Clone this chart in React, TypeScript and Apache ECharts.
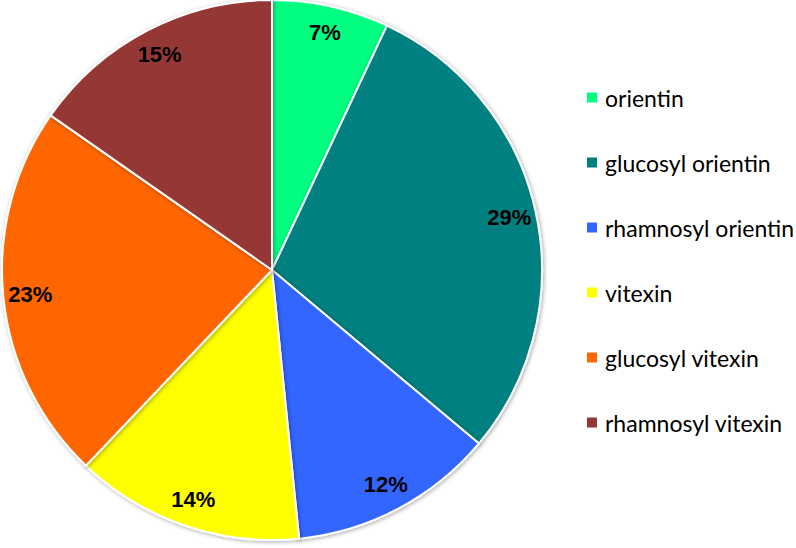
import React, { useEffect, useRef } from "react";
import * as echarts from "echarts";

const categories = [
  "orientin",
  "glucosyl orientin",
  "rhamnosyl orientin",
  "vitexin",
  "glucosyl vitexin",
  "rhamnosyl vitexin",
];
const values = [7.0, 29.1, 12.3, 13.7, 22.6, 15.3];
const colors = ["#00FF80", "#008080", "#3366FF", "#FFFF00", "#FF6600", "#953735"];

export default function App() {
  const ref = useRef<HTMLDivElement>(null);
  useEffect(() => {
    if (!ref.current) return;
    const chart = echarts.init(ref.current, null, { renderer: "svg" });
    const data = categories.map((name, i) => ({
      name,
      value: values[i],
      itemStyle: { color: colors[i] },
    }));
    const labelData = categories.map((name, i) => ({ name, value: values[i] }));
    chart.setOption({
      animation: false,
      backgroundColor: "#ffffff",
      color: colors,
      legend: {
        orient: "vertical",
        left: 580,
        top: 81,
        padding: 5,
        icon: "rect",
        itemWidth: 12,
        itemHeight: 12,
        itemGap: 42,
        selectedMode: false,
        data: categories,
        textStyle: {
          fontFamily: "Lato",
          fontSize: 23,
          lineHeight: 23,
          color: "#000000",
          padding: [0, 0, 0, 2],
        },
      },
      series: [
        {
          type: "pie",
          center: [272, 270],
          radius: [0, 270],
          startAngle: 90,
          clockwise: true,
          silent: true,
          label: { show: false },
          labelLine: { show: false },
          itemStyle: {
            borderColor: "#ffffff",
            borderWidth: 2,
            shadowColor: "rgba(0,0,0,0.35)",
            shadowBlur: 4,
            shadowOffsetX: 1,
            shadowOffsetY: 1,
          },
          data,
        },
        {
          type: "pie",
          center: [272, 270],
          radius: [210, 270],
          startAngle: 90,
          clockwise: true,
          silent: true,
          legendHoverLink: false,
          itemStyle: { color: "rgba(0,0,0,0)", borderWidth: 0 },
          labelLine: { show: false },
          label: {
            show: true,
            position: "inside",
            fontFamily: "Liberation Sans",
            fontWeight: "bold",
            fontSize: 22,
            color: "#000000",
            formatter: (p: any) => Math.round(p.percent) + "%",
          },
          data: labelData,
        },
      ],
    });
    return () => chart.dispose();
  }, []);
  return (
    <div
      ref={ref}
      style={{ position: "fixed", left: 0, top: 0, width: 796, height: 548 }}
    />
  );
}
